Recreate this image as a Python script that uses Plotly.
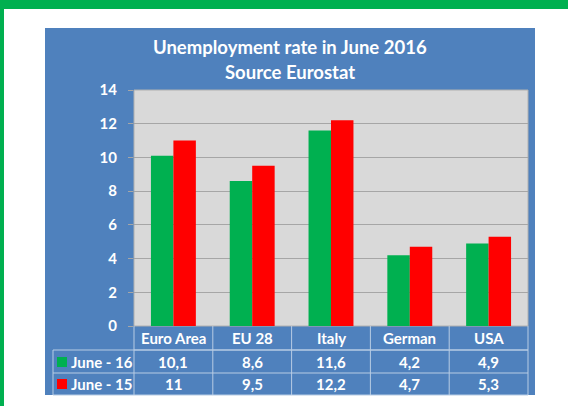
import plotly.graph_objects as go

categories = ["Euro Area", "EU 28", "Italy", "German", "USA"]
june16 = [10.1, 8.6, 11.6, 4.2, 4.9]
june15 = [11.0, 9.5, 12.2, 4.7, 5.3]
series_names = ["June - 16", "June - 15"]
labels16 = ["10,1", "8,6", "11,6", "4,2", "4,9"]
labels15 = ["11", "9,5", "12,2", "4,7", "5,3"]
yticks = [0, 2, 4, 6, 8, 10, 12, 14]

W, H = 568, 406
L, R, T, B = 134, 40, 90, 80
PW, PH = W - L - R, H - T - B

GREEN = "#00b050"
RED = "#ff0000"
BLUE = "#4f81bd"
GRID_BG = "#d9d9d9"
FONT = "Lato, 'Open Sans', sans-serif"


def px(x):
    return (x - L) / PW


def py(y):
    return (H - B - y) / PH


fig = go.Figure()
fig.add_trace(go.Bar(x=categories, y=june16, name=series_names[0],
                     marker=dict(color=GREEN, line=dict(width=0))))
fig.add_trace(go.Bar(x=categories, y=june15, name=series_names[1],
                     marker=dict(color=RED, line=dict(width=0))))

shapes = []
# outer green frame
shapes.append(dict(type="rect", xref="paper", yref="paper", x0=px(0), x1=px(W), y0=py(0), y1=py(9),
                   fillcolor=GREEN, line=dict(width=0), layer="below"))
shapes.append(dict(type="rect", xref="paper", yref="paper", x0=px(0), x1=px(4), y0=py(0), y1=py(H),
                   fillcolor=GREEN, line=dict(width=0), layer="below"))
# blue panel
shapes.append(dict(type="rect", xref="paper", yref="paper", x0=px(45), x1=px(535), y0=py(28), y1=py(395),
                   fillcolor=BLUE, line=dict(width=0), layer="below"))
# gray plot area
shapes.append(dict(type="rect", xref="paper", yref="paper", x0=0, x1=1, y0=0, y1=1,
                   fillcolor=GRID_BG, line=dict(color="#b0b0b0", width=1), layer="below"))

# table lines
LINE = dict(color="#b8cce4", width=1)
row_y = [326, 350, 373, 395]
col_x = [L + i * PW / len(categories) for i in range(len(categories) + 1)]
shapes.append(dict(type="line", xref="paper", yref="paper", x0=px(L), x1=px(528), y0=py(350), y1=py(350), line=LINE))
for yy in row_y[1:]:
    shapes.append(dict(type="line", xref="paper", yref="paper", x0=px(53), x1=px(528), y0=py(yy), y1=py(yy), line=LINE))
shapes.append(dict(type="line", xref="paper", yref="paper", x0=px(53), x1=px(53), y0=py(350), y1=py(395), line=LINE))
for xx in col_x:
    shapes.append(dict(type="line", xref="paper", yref="paper", x0=px(xx), x1=px(xx), y0=py(326), y1=py(395), line=LINE))
# legend squares
for yc, col in zip([362, 384], [GREEN, RED]):
    shapes.append(dict(type="rect", xref="paper", yref="paper", x0=px(57), x1=px(67), y0=py(yc - 5), y1=py(yc + 5),
                       fillcolor=col, line=dict(width=0)))

annotations = []
tf = dict(family=FONT, size=15, color="white", weight="bold")
for i, c in enumerate(categories):
    xc = px((col_x[i] + col_x[i + 1]) / 2)
    annotations.append(dict(x=xc, y=py(338), xref="paper", yref="paper", text=c, showarrow=False,
                            font=tf, xanchor="center", yanchor="middle"))
    annotations.append(dict(x=xc, y=py(362), xref="paper", yref="paper", text=labels16[i], showarrow=False,
                            font=tf, xanchor="center", yanchor="middle"))
    annotations.append(dict(x=xc, y=py(384), xref="paper", yref="paper", text=labels15[i], showarrow=False,
                            font=tf, xanchor="center", yanchor="middle"))
for yc, name in zip([362, 384], series_names):
    annotations.append(dict(x=px(69), y=py(yc), xref="paper", yref="paper", text=name, showarrow=False,
                            font=tf, xanchor="left", yanchor="middle"))
# title
TF = dict(family=FONT, size=18.5, color="white", weight="bold")
annotations.append(dict(x=px(290), y=py(47), xref="paper", yref="paper",
                        text="Unemployment rate in June 2016", showarrow=False,
                        font=TF, xanchor="center", yanchor="middle"))
annotations.append(dict(x=px(290), y=py(72), xref="paper", yref="paper",
                        text="Source Eurostat", showarrow=False,
                        font=TF, xanchor="center", yanchor="middle"))

fig.update_layout(
    width=W, height=H,
    margin=dict(l=L, r=R, t=T, b=B, pad=0),
    paper_bgcolor="white",
    plot_bgcolor=GRID_BG,
    barmode="group",
    bargap=0.43,
    bargroupgap=0,
    showlegend=False,
    shapes=shapes,
    annotations=annotations,
    xaxis=dict(showticklabels=False, showgrid=False, zeroline=False, showline=False, ticks=""),
    yaxis=dict(range=[0, 14], tickvals=yticks, showgrid=True, gridcolor="#a6a6a6", gridwidth=1,
               zeroline=False, showline=False, ticks="outside", ticklen=5, tickcolor="#a6a6a6",
               tickfont=dict(family=FONT, size=15, color="white", weight="bold"),
               ticklabelstandoff=8),
)

fig.write_html("out.html", config={"displayModeBar": False},
               post_script="document.body.style.margin='0';document.body.style.overflow='hidden';")
